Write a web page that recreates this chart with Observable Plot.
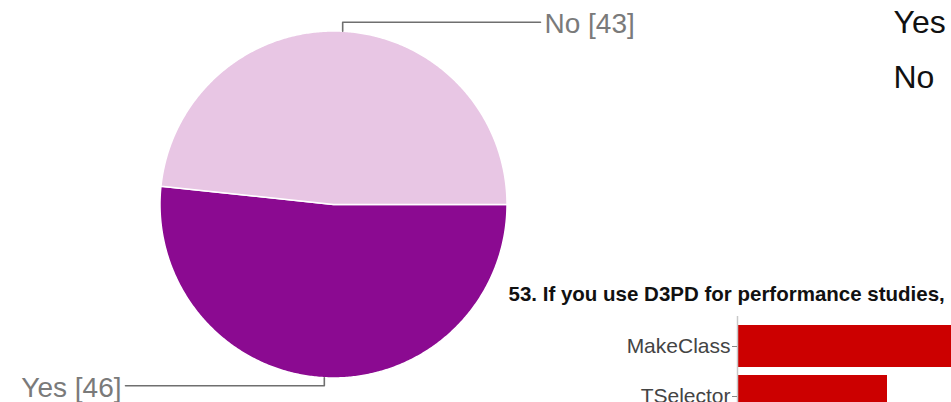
<!DOCTYPE html>
<html><head><meta charset="utf-8">
<script src="https://cdn.jsdelivr.net/npm/d3@7"></script>
<script src="https://cdn.jsdelivr.net/npm/@observablehq/plot@0.6"></script>
<style>
html,body{margin:0;padding:0;background:#fff;overflow:hidden;}
#wrap{position:relative;width:951px;height:402px;overflow:hidden;font-family:"Liberation Sans",Arial,sans-serif;}
#wrap > svg{position:absolute;}
</style></head><body><div id="wrap"></div>
<script>
// ---- data ----
const pieCategories = ["Yes", "No"];
const pieValues = [46, 43];
const pieColors = ["#8b0a91", "#e8c6e4"];
const legendLabels = ["Yes", "No"];
const barCategories = ["MakeClass", "TSelector"];
const barValues = [13, 7];
const barTitle = "53. If you use D3PD for performance studies,";

const FONT = '"Liberation Sans", Arial, sans-serif';
const W = 951, H = 402;
const cx = 333, cy = 204, R = 173.5;

const arcs = d3.pie().sort(null).startAngle(Math.PI / 2).endAngle(Math.PI / 2 + 2 * Math.PI)(pieValues)
  .map((a, i) => ({...a, name: pieCategories[i], color: pieColors[i], label: `${pieCategories[i]} [${pieValues[i]}]`}));

// slice outlines derived from the pie angles
const slicePts = [];
for (const a of arcs) {
  slicePts.push({name: a.name, x: cx, y: cy});
  const n = Math.ceil((a.endAngle - a.startAngle) / (Math.PI / 360));
  for (let k = 0; k <= n; k++) {
    const t = a.startAngle + (a.endAngle - a.startAngle) * k / n;
    slicePts.push({name: a.name, x: cx + R * Math.sin(t), y: cy - R * Math.cos(t)});
  }
  slicePts.push({name: a.name, x: cx, y: cy});
}

// leader lines from each slice's mid angle
const leaderPts = [];
const labelsRight = [], labelsLeft = [];
for (const a of arcs) {
  const m = (a.startAngle + a.endAngle) / 2;
  const ex = cx + R * Math.sin(m), ey = cy - R * Math.cos(m);
  const up = Math.cos(m) > 0;
  const ely = up ? ey - 9 : ey + 8;
  const endX = up ? 540 : 125;
  leaderPts.push({name: a.name, x: ex, y: ey}, {name: a.name, x: ex, y: ely}, {name: a.name, x: endX, y: ely});
  (up ? labelsRight : labelsLeft).push({label: a.label, x: up ? endX + 4 : endX - 4, y: ely + 11});
}

const pie = Plot.plot({
  width: W, height: H, margin: 0,
  x: {domain: [0, W], range: [0, W], axis: null},
  y: {domain: [0, H], range: [0, H], axis: null},
  style: {fontFamily: FONT, background: "transparent"},
  marks: [
    Plot.line(slicePts, {x: "x", y: "y", z: "name", fill: d => pieColors[pieCategories.indexOf(d.name)], stroke: "#fff", strokeWidth: 1.5, curve: "linear"}),
    Plot.line(leaderPts, {x: "x", y: "y", z: "name", stroke: "#6f6f6f", strokeWidth: 1.6}),
    Plot.text(labelsRight, {x: "x", y: "y", text: "label", textAnchor: "start", lineAnchor: "bottom", fontSize: 28, fill: "#7a7a7a"}),
    Plot.text(labelsLeft, {x: "x", y: "y", text: "label", textAnchor: "end", lineAnchor: "bottom", fontSize: 28, fill: "#7a7a7a"}),
    Plot.text(legendLabels, {x: () => 893, y: (d, i) => 32 + i * 55, text: d => d, textAnchor: "start", lineAnchor: "bottom", fontSize: 32, fill: "#111"}),
    Plot.text([barTitle], {x: () => 508, y: () => 300, text: d => d, textAnchor: "start", lineAnchor: "bottom", fontSize: 20.5, fontWeight: "bold", fill: "#111"})
  ]
});
pie.style.left = "0px"; pie.style.top = "0px";

const barData = barCategories.map((c, i) => ({name: c, value: barValues[i]}));
const bars = Plot.plot({
  width: 400, height: 120,
  marginLeft: 137, marginRight: 0, marginTop: 6, marginBottom: 0,
  x: {domain: [0, 7], range: [137, 287], axis: null},
  y: {domain: barCategories, range: [7, 115], padding: 0.16, axis: null},
  style: {fontFamily: FONT, background: "transparent", color: "#444"},
  marks: [
    Plot.barX(barData, {x: "value", y: "name", fill: "#cc0000"}),
    Plot.ruleX([0], {stroke: "#c8c8c8", strokeWidth: 1.5}),
    Plot.axisY({anchor: "left", tickSize: 5, tickPadding: 2, fontSize: 21, stroke: "#888", fill: "#444", label: null})
  ]
});
bars.style.left = "600px"; bars.style.top = "310px";

const wrap = document.getElementById("wrap");
wrap.append(pie, bars);
</script></body></html>
